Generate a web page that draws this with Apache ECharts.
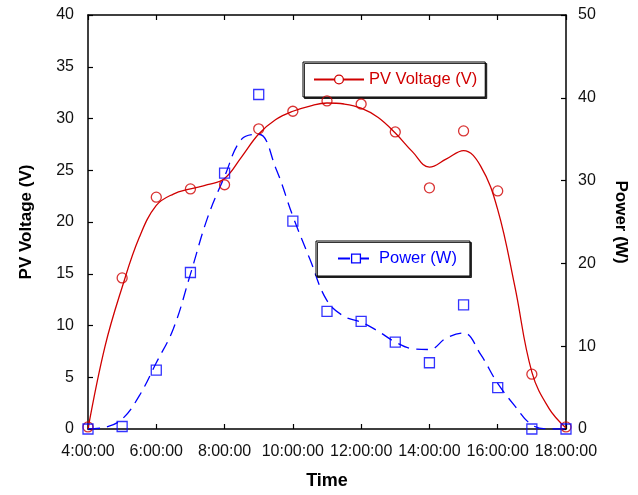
<!DOCTYPE html>
<html>
<head>
<meta charset="utf-8">
<script src="https://cdn.jsdelivr.net/npm/echarts@6/dist/echarts.min.js"></script>
<style>html,body{margin:0;padding:0;background:#fff;}#c{width:638px;height:495px;}</style>
</head>
<body>
<div id="c"></div>
<script>
// measured points (hour of day)
var hours = [4, 5, 6, 7, 8, 9, 10, 11, 12, 13, 14, 15, 16, 17, 18];
var voltage = [0.2, 14.6, 22.4, 23.2, 23.6, 29.0, 30.7, 31.7, 31.4, 28.7, 23.3, 28.8, 23.0, 5.3, 0.2];
var power = [0.0, 0.3, 7.1, 18.9, 30.9, 40.4, 25.1, 14.2, 13.0, 10.5, 8.0, 15.0, 5.0, 0.0, 0.0];
// smoothed fit curves
var fitHours = [4, 4.5, 5, 5.5, 6, 6.5, 7, 7.5, 8, 8.5, 9, 9.5, 10, 10.5, 11, 11.5, 12, 12.5, 13, 13.5, 14, 14.5, 15, 15.5, 16, 16.5, 17, 17.5, 18];
var voltageFit = [0, 8.0, 13.7, 18.5, 21.6, 22.7, 23.2, 23.6, 24.2, 26.3, 28.5, 29.9, 30.7, 31.2, 31.5, 31.4, 31.0, 30.1, 28.6, 26.8, 25.3, 26.1, 26.9, 25.4, 21.2, 13.8, 5.5, 2.0, 0.1];
var powerFit = [0, 0.2, 1.2, 4.0, 8.0, 12.1, 18.7, 25.5, 30.5, 35.0, 35.6, 31.5, 25.7, 20.5, 15.5, 13.6, 12.9, 11.8, 10.5, 9.7, 9.6, 11.0, 11.6, 9.0, 5.5, 2.8, 0.5, 0.0, 0.0];
var xTicks = [4, 6, 8, 10, 12, 14, 16, 18];

function pairs(xs, ys) { return xs.map(function (x, i) { return [x, ys[i]]; }); }

var RED = '#d00000', BLUE = '#0000ff';
var FONT = 'Liberation Sans, Arial, sans-serif';
var chart = echarts.init(document.getElementById('c'));
chart.setOption({
  animation: false,
  backgroundColor: '#fff',
  grid: { left: 88, right: 72, top: 15, bottom: 63 },
  legend: [
    {
      left: 303, top: 62, orient: 'horizontal',
      data: [{ name: 'PV Voltage (V)', itemStyle: { color: '#fff', borderColor: RED, borderWidth: 1.3 } }],
      itemWidth: 50, itemHeight: 11, itemGap: 5,
      padding: [9, 8, 9, 10],
      borderColor: '#000', borderWidth: 1,
      shadowColor: 'rgba(0,0,0,0.8)', shadowOffsetX: 1.5, shadowOffsetY: 1.5, shadowBlur: 0,
      backgroundColor: '#fff',
      textStyle: { color: RED, fontSize: 16.5, fontFamily: FONT }
    },
    {
      left: 316, top: 241, orient: 'horizontal',
      data: [{ name: 'Power (W)', itemStyle: { color: '#fff', borderColor: BLUE, borderWidth: 1.3 } }],
      itemWidth: 36, itemHeight: 11, itemGap: 7,
      padding: [9, 13, 9, 21],
      borderColor: '#000', borderWidth: 1,
      shadowColor: 'rgba(0,0,0,0.8)', shadowOffsetX: 1.5, shadowOffsetY: 1.5, shadowBlur: 0,
      backgroundColor: '#fff',
      textStyle: { color: BLUE, fontSize: 16.5, fontFamily: FONT }
    }
  ],
  xAxis: [
    {
      type: 'value', min: 4, max: 18, interval: 2, position: 'bottom',
      name: 'Time', nameLocation: 'middle', nameGap: 43,
      nameTextStyle: { fontSize: 18, fontWeight: 'bold', color: '#000', fontFamily: FONT },
      axisLine: { onZero: false, lineStyle: { color: '#000', width: 1.5 } },
      axisTick: { inside: true, length: 5, lineStyle: { color: '#000', width: 1.2 } },
      axisLabel: { fontSize: 16, color: '#111', margin: 15, fontFamily: FONT,
        formatter: function (v) { return xTicks.indexOf(v) >= 0 ? v + ':00:00' : ''; } },
      splitLine: { show: false }
    },
    {
      type: 'value', min: 4, max: 18, interval: 2, position: 'top',
      axisLine: { onZero: false, lineStyle: { color: '#000', width: 1.5 } },
      axisTick: { inside: true, length: 5, lineStyle: { color: '#000', width: 1.2 } },
      axisLabel: { show: false },
      splitLine: { show: false }
    }
  ],
  yAxis: [
    {
      type: 'value', min: 0, max: 40, interval: 5, position: 'left',
      name: 'PV Voltage (V)', nameLocation: 'middle', nameGap: 53,
      nameTextStyle: { fontSize: 17, fontWeight: 'bold', color: '#000', fontFamily: FONT },
      axisLine: { show: true, onZero: false, lineStyle: { color: '#000', width: 1.5 } },
      axisTick: { show: true, inside: true, length: 5, lineStyle: { color: '#000', width: 1.2 } },
      axisLabel: { fontSize: 16, color: '#111', margin: 14, fontFamily: FONT },
      splitLine: { show: false }
    },
    {
      type: 'value', min: 0, max: 50, interval: 10, position: 'right',
      name: 'Power (W)', nameLocation: 'middle', nameGap: 46, nameRotate: -90,
      nameTextStyle: { fontSize: 17, fontWeight: 'bold', color: '#000', fontFamily: FONT },
      axisLine: { show: true, onZero: false, lineStyle: { color: '#000', width: 1.5 } },
      axisTick: { show: true, inside: true, length: 5, lineStyle: { color: '#000', width: 1.2 } },
      axisLabel: { fontSize: 16, color: '#111', margin: 12, fontFamily: FONT },
      splitLine: { show: false }
    }
  ],
  series: [
    {
      name: 'PV Voltage (V)', type: 'line', yAxisIndex: 0, xAxisIndex: 0,
      data: pairs(fitHours, voltageFit), smooth: 0.4,
      symbol: 'circle', showSymbol: false,
      lineStyle: { color: RED, width: 1.3 }, itemStyle: { color: RED }
    },
    {
      name: 'Power (W)', type: 'line', yAxisIndex: 1, xAxisIndex: 0,
      data: pairs(fitHours, powerFit), smooth: 0.4,
      symbol: 'rect', showSymbol: false,
      lineStyle: { color: BLUE, width: 1.3, type: [12, 7] }, itemStyle: { color: BLUE }
    },
    {
      name: 'voltagePts', type: 'scatter', yAxisIndex: 0, xAxisIndex: 0,
      data: pairs(hours, voltage), symbol: 'circle', symbolSize: 10,
      itemStyle: { color: 'rgba(0,0,0,0)', borderColor: RED, borderWidth: 1.3 }, z: 5
    },
    {
      name: 'powerPts', type: 'scatter', yAxisIndex: 1, xAxisIndex: 0,
      data: pairs(hours, power), symbol: 'rect', symbolSize: 10,
      itemStyle: { color: 'rgba(0,0,0,0)', borderColor: BLUE, borderWidth: 1.3 }, z: 5
    }
  ]
});
</script>
</body>
</html>
